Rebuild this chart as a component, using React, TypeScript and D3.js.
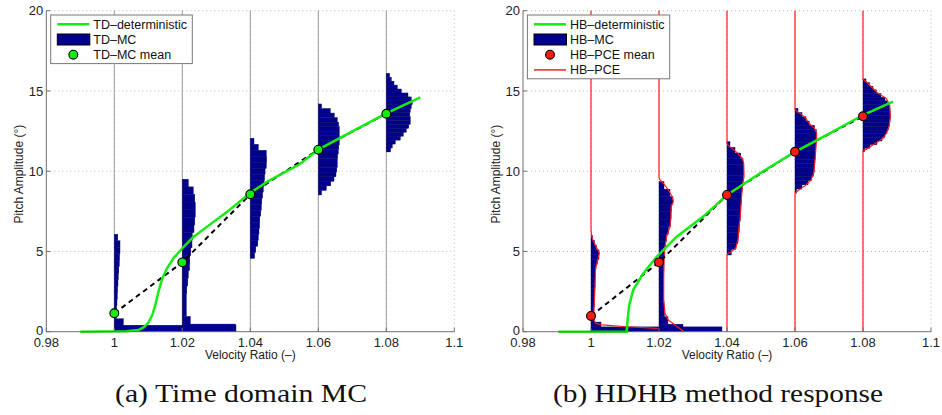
import React from "react";
import * as d3 from "d3";

const W = 942;
const H = 415;

const X_TICKS = [0.98, 1, 1.02, 1.04, 1.06, 1.08, 1.1];
const Y_TICKS = [0, 5, 10, 15, 20];
const STATIONS = [1, 1.02, 1.04, 1.06, 1.08];
// one histogram "count" unit expressed in velocity-ratio units
const HIST_UNIT = 1 / 3400;

// ---- Time-domain (left) ----
const TD_DET_X = [0.99, 1.0036, 1.0071, 1.0088, 1.01, 1.0112, 1.0121, 1.013, 1.014, 1.0155, 1.0175, 1.02, 1.023, 1.027, 1.0331, 1.04, 1.045, 1.0546, 1.06, 1.0693, 1.08, 1.09];
const TD_DET_Y = [0, 0.03, 0.1, 0.3, 0.55, 1.05, 1.7, 2.5, 3.25, 3.95, 4.6, 5.2, 5.85, 6.5, 7.45, 8.65, 9.35, 10.45, 11.35, 12.4, 13.6, 14.6];
const TD_MEAN_Y = [1.15, 4.32, 8.56, 11.34, 13.58];
const TD_HIST_LO = [0, 0, 4.57, 8.52, 11.2];
const TD_HIST_HI = [6.07, 9.5, 12.05, 14.19, 16.1];
const TD_HIST_100 = [121.7, 9, 2, 2.3, 2.7, 3, 3.3, 3.7, 4, 4.5, 5, 5.3, 5.7, 5.7, 3.5];
const TD_HIST_102 = [53.3, 8, 4, 4, 4, 4.5, 5.5, 6, 7.3, 7.5, 8.5, 9.7, 10, 11.7, 12.5, 13, 13, 12.5, 11, 6];
const TD_HIST_104 = [4.3, 5.5, 7.5, 8, 8.7, 9.3, 9.5, 10.5, 11, 11.5, 12.3, 13, 13.8, 14.3, 14.8, 16, 16.3, 16, 8, 3.7];
const TD_HIST_106 = [3.3, 8, 12.5, 15.7, 17.7, 18.5, 19, 19, 19.3, 20, 20.5, 21, 21, 21, 21, 20.3, 19, 16, 12, 3.3];
const TD_HIST_108 = [4.3, 6, 9, 14, 17, 20, 22.5, 24, 24, 23.5, 24, 25, 26, 25, 21.7, 15, 11, 7.7, 5, 3.3];

// ---- HDHB (right) ----
const HB_DET_X = [0.9904, 1.0105, 1.0108, 1.0112, 1.0124, 1.0154, 1.0193, 1.0252, 1.033, 1.04, 1.0497, 1.06, 1.0702, 1.08, 1.0888];
const HB_DET_Y = [0, 0, 0.8, 1.6, 2.6, 3.64, 4.67, 5.92, 7.17, 8.52, 9.87, 11.21, 12.36, 13.5, 14.33];
const HB_MEAN_Y = [0.98, 4.32, 8.52, 11.21, 13.42];
const HB_HIST_LO = [0, 0, 4.78, 8.62, 11.2];
const HB_HIST_HI = [6.0, 9.35, 11.84, 13.92, 15.75];
const HB_HIST_100 = [131, 10, 3.3, 2.7, 2.8, 3.2, 3.5, 3.7, 3.8, 4, 4, 4.2, 4.3, 5, 6.5, 8, 8, 5.5, 3.5, 1.5];
const HB_HIST_102 = [24, 9, 5.5, 5, 4.7, 4.7, 4.7, 4.8, 4.9, 5, 5.5, 6.2, 7.5, 9.5, 11.5, 12, 12.5, 14, 11, 5];
const HB_HIST_104 = [4.3, 9, 11, 11.8, 12.2, 12.7, 13.3, 13.6, 13.9, 14.3, 14.6, 15.1, 15.8, 16.5, 16.9, 16.8, 16, 13.8, 8, 3];
const HB_HIST_106 = [1.5, 7, 13, 16.5, 18.5, 19.2, 19.6, 19.9, 20.3, 20.5, 20.8, 21, 21.3, 21.5, 21.3, 19.5, 14.3, 11, 7, 3];
const HB_HIST_108 = [1.5, 7, 14, 19, 22, 24, 25.5, 26.5, 27, 27.3, 27.2, 27, 26.3, 24.5, 22, 18, 13.5, 10, 6.5, 3];

// PCE density outlines: [amplitude, count]
const PCE_100: [number, number][] = [[20, 0], [6.4, 0], [6.0, 0.5], [5.7, 2], [5.3, 5], [4.9, 8.3], [4.5, 6.7], [3.9, 4.5], [2.8, 4], [1.8, 3.3], [0.9, 2.7], [0.7, 3.2], [0.52, 5], [0.42, 11.7], [0.31, 35], [0.21, 66.7]];
const PCE_102: [number, number][] = [[20, 0], [9.6, 0], [9.45, 1], [9.25, 4.3], [8.83, 9.3], [8.41, 13.3], [8.1, 14.3], [7.79, 12], [7.17, 12], [6.54, 11], [5.92, 7.7], [5.3, 6], [4.47, 5], [3.22, 4.7], [1.97, 4.7], [1.15, 6], [0.73, 9.3], [0.42, 16], [0.1, 22.7], [0, 25]];
const PCE_104: [number, number][] = [[20, 0], [11.7, 0], [11.53, 2.7], [11.11, 11], [10.8, 15.3], [10.49, 16.7], [9.66, 17], [9.03, 15.3], [8.21, 14.3], [7.17, 13.3], [6.54, 12], [5.71, 11], [5.2, 8.7], [4.98, 4.3], [4.88, 1], [4.8, 0], [0, 0]];
const PCE_106: [number, number][] = [[20, 0], [13.85, 0], [13.71, 2.7], [13.4, 9.3], [12.98, 14.3], [12.67, 19.3], [12.36, 21.7], [11.53, 21], [10.7, 20], [9.87, 18.7], [9.45, 16], [9.14, 11], [8.93, 6], [8.72, 1.7], [8.62, 0], [0, 0]];
const PCE_108: [number, number][] = [[20, 0], [15.72, 0], [15.58, 3.3], [15.26, 8.3], [14.85, 15], [14.54, 23.3], [14.12, 26.7], [13.4, 27.3], [12.77, 26], [12.36, 23.3], [12.05, 20], [11.84, 15], [11.57, 8.3], [11.36, 3.3], [11.28, 0], [0, 0]];

const TD_LEGEND = ["TD–deterministic", "TD–MC", "TD–MC mean"];
const HB_LEGEND = ["HB–deterministic", "HB–MC", "HB–PCE mean", "HB–PCE"];
const X_LABEL = "Velocity Ratio (–)";
const Y_LABEL = "Pitch Amplitude (°)";
const CAPTIONS = ["(a) Time domain MC", "(b) HDHB method response"];

const GREEN = "#14ec14";
const NAVY = "#00008c";
const RED = "#ff1a1a";
const SANS = "Liberation Sans";
const SERIF = "Liberation Serif";

const PLOT_W = 408;
const PLOT_TOP = 10.7;
const PLOT_BOT = 331.7;

type PanelProps = {
  left: number;
  detX: number[];
  detY: number[];
  meanY: number[];
  histLo: number[];
  histHi: number[];
  hists: number[][];
  pce?: [number, number][][];
  legend: string[];
  legendW: number;
  meanColor: string;
  baseColor: string;
};

function Panel(p: PanelProps) {
  const x = d3.scaleLinear().domain([0.98, 1.1]).range([p.left, p.left + PLOT_W]);
  const y = d3.scaleLinear().domain([0, 20]).range([PLOT_BOT, PLOT_TOP]);
  const det = d3.line<number>().x((_, i) => x(p.detX[i])).y((_, i) => y(p.detY[i]))(p.detX) || "";
  const meanPath = d3.line<number>().x((s) => x(s)).y((_, i) => y(p.meanY[i]))(STATIONS) || "";

  const bars: JSX.Element[] = [];
  STATIONS.forEach((s, i) => {
    const c = p.hists[i];
    const bh = (p.histHi[i] - p.histLo[i]) / c.length;
    c.forEach((v, j) => {
      const y0 = p.histLo[i] + j * bh;
      const y1 = y0 + bh;
      bars.push(
        <rect key={`b${i}-${j}`} x={x(s)} y={y(y1)} width={x(s + v * HIST_UNIT) - x(s)} height={y(y0) - y(y1)}
          fill={NAVY} stroke="#000060" strokeWidth={0.4} />
      );
    });
  });

  const lx = p.left + 11;
  const ly = 24.3;
  const step = 15.2;
  const legH = p.legend.length * step + 3;
  const textStyle = { fontFamily: SANS };

  return (
    <g>
      {Y_TICKS.filter((t) => t > 0).map((t) => (
        <line key={`gy${t}`} x1={x(0.98)} x2={x(1.1)} y1={y(t)} y2={y(t)} stroke="#b8b8b8" strokeWidth={1} strokeDasharray="1,3" />
      ))}
      {X_TICKS.filter((t) => t > 0.98).map((t) => (
        <line key={`gx${t}`} x1={x(t)} x2={x(t)} y1={y(0)} y2={y(20)} stroke="#b8b8b8" strokeWidth={1} strokeDasharray="1,3" />
      ))}
      {!p.pce && STATIONS.map((s) => (
        <line key={`bl${s}`} x1={x(s)} x2={x(s)} y1={y(0)} y2={y(20)} stroke={p.baseColor} strokeWidth={1} />
      ))}
      {bars}
      {p.pce && p.pce.map((pts, i) => (
        <path key={`pce${i}`} d={d3.line<[number, number]>().x((d) => x(STATIONS[i] + d[1] * HIST_UNIT)).y((d) => y(d[0]))(pts) || ""}
          fill="none" stroke={RED} strokeWidth={1.2} />
      ))}
      <path d={meanPath} fill="none" stroke="#000" strokeWidth={2} strokeDasharray="5,4" />
      <path d={det} fill="none" stroke={GREEN} strokeWidth={2.5} />
      {STATIONS.map((s, i) => (
        <circle key={`m${i}`} cx={x(s)} cy={y(p.meanY[i])} r={4.4} fill={p.meanColor} stroke="#000" strokeWidth={1.1} />
      ))}
      <line x1={x(0.98)} x2={x(1.1)} y1={y(0)} y2={y(0)} stroke="#6e6e6e" strokeWidth={1} />
      <line x1={x(0.98)} x2={x(0.98)} y1={y(0)} y2={y(20)} stroke="#6e6e6e" strokeWidth={1} />
      {X_TICKS.map((t) => (
        <g key={`xt${t}`}>
          <line x1={x(t)} x2={x(t)} y1={y(0)} y2={y(0) - 4} stroke="#6e6e6e" />
          <text x={x(t)} y={346.5} textAnchor="middle" style={textStyle} fontSize={13} fill="#222">{d3.format("~g")(t)}</text>
        </g>
      ))}
      {Y_TICKS.map((t) => (
        <g key={`yt${t}`}>
          <line x1={x(0.98)} x2={x(0.98) + 4} y1={y(t)} y2={y(t)} stroke="#6e6e6e" />
          <text x={x(0.98) - 3} y={y(t) + (t === 0 ? 3.5 : 4.6)} textAnchor="end" style={textStyle} fontSize={13} fill="#222">{t}</text>
        </g>
      ))}
      <text x={(x(0.98) + x(1.1)) / 2} y={359} textAnchor="middle" style={textStyle} fontSize={12} fill="#222">{X_LABEL}</text>
      <text transform={`translate(${x(0.98) - 23},${(PLOT_TOP + PLOT_BOT) / 2 + 3}) rotate(-90)`} textAnchor="middle" style={textStyle} fontSize={12} fill="#222">{Y_LABEL}</text>
      <rect x={p.left + 4.4} y={15} width={p.legendW} height={legH} fill="#fff" stroke="#777" strokeWidth={1} />
      {p.legend.map((lab, i) => {
        const cy = ly + i * step;
        let sym: JSX.Element;
        if (i === 0) sym = <line x1={lx} x2={lx + 32} y1={cy} y2={cy} stroke={GREEN} strokeWidth={2.5} />;
        else if (i === 1) sym = <rect x={lx} y={cy - 5.5} width={32.5} height={11} fill={NAVY} stroke="#000" strokeWidth={1} />;
        else if (i === 2) sym = <circle cx={lx + 16} cy={cy} r={4.4} fill={p.meanColor} stroke="#000" strokeWidth={1.1} />;
        else sym = <line x1={lx} x2={lx + 32} y1={cy} y2={cy} stroke={RED} strokeWidth={1.5} />;
        return (
          <g key={`lg${i}`}>
            {sym}
            <text x={lx + 36} y={cy + 4.3} style={textStyle} fontSize={12.5} fill="#111">{lab}</text>
          </g>
        );
      })}
    </g>
  );
}

export default function App() {
  return (
    <svg width={W} height={H} viewBox={`0 0 ${W} ${H}`} style={{ position: "absolute", left: 0, top: 0, background: "#fff" }}>
      <rect width={W} height={H} fill="#fff" />
      <Panel left={46.3} detX={TD_DET_X} detY={TD_DET_Y} meanY={TD_MEAN_Y} histLo={TD_HIST_LO} histHi={TD_HIST_HI}
        hists={[TD_HIST_100, TD_HIST_102, TD_HIST_104, TD_HIST_106, TD_HIST_108]} legend={TD_LEGEND} legendW={141.6}
        meanColor={GREEN} baseColor="#9a9a9a" />
      <Panel left={523} detX={HB_DET_X} detY={HB_DET_Y} meanY={HB_MEAN_Y} histLo={HB_HIST_LO} histHi={HB_HIST_HI}
        hists={[HB_HIST_100, HB_HIST_102, HB_HIST_104, HB_HIST_106, HB_HIST_108]} pce={[PCE_100, PCE_102, PCE_104, PCE_106, PCE_108]}
        legend={HB_LEGEND} legendW={142.3} meanColor={RED} baseColor={RED} />
      <text x={241} y={402} textAnchor="middle" style={{ fontFamily: SERIF }} fontSize={26} textLength={252} lengthAdjust="spacingAndGlyphs" fill="#111">{CAPTIONS[0]}</text>
      <text x={718} y={402} textAnchor="middle" style={{ fontFamily: SERIF }} fontSize={26} textLength={330} lengthAdjust="spacingAndGlyphs" fill="#111">{CAPTIONS[1]}</text>
    </svg>
  );
}
